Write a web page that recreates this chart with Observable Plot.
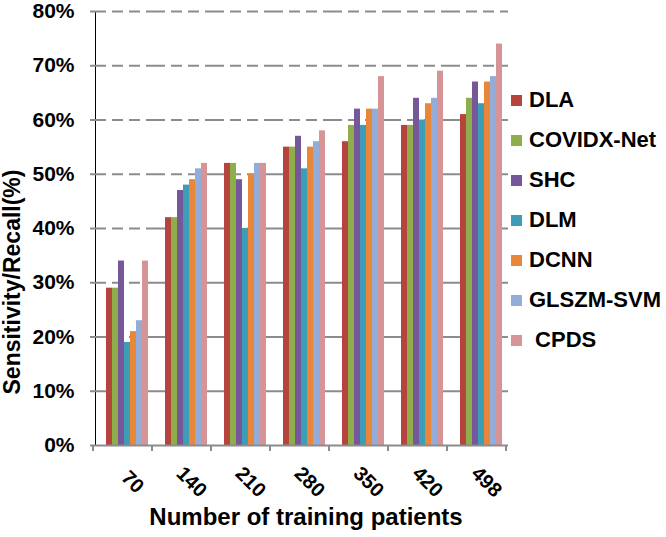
<!DOCTYPE html>
<html><head><meta charset="utf-8">
<script src="https://cdn.jsdelivr.net/npm/d3@7"></script>
<script src="https://cdn.jsdelivr.net/npm/@observablehq/plot@0.6"></script>
<style>
body{margin:0;background:#fff;font-family:"Liberation Sans",Arial,sans-serif;}
#wrap{position:relative;width:666px;height:537px;}
#legend{position:absolute;left:511px;top:80px;}
.row{height:40px;display:flex;align-items:center;white-space:pre;font-weight:bold;font-size:22px;color:#000;}
.sw{width:11px;height:11px;margin-right:7px;flex:none;}
</style></head><body><div id="wrap"><div id="legend"></div></div>
<script>
const groups = ["70","140","210","280","350","420","498"];
const methods = ["DLA","COVIDX-Net","SHC","DLM","DCNN","GLSZM-SVM","CPDS"];
const legendLabels = ["DLA","COVIDX-Net","SHC","DLM","DCNN","GLSZM-SVM"," CPDS"];
const colors = ["#B5443F","#8DAE4B","#75579A","#3D9DB6","#E8873A","#93ACD8","#D79496"];
const DLA       = [29,42,52,55,56,59,61];
const COVIDXNet = [29,42,52,55,59,59,64];
const SHC       = [34,47,49,57,62,64,67];
const DLM       = [19,48,40,51,59,60,63];
const DCNN      = [21,49,50,55,62,63,67];
const GLSZMSVM  = [23,51,52,56,62,64,68];
const CPDS      = [34,52,52,58,68,69,74];
const yTicks = [0,10,20,30,40,50,60,70,80];
const yTitle = "Sensitivity/Recall(%)";
const xTitle = "Number of training patients";

const series = [DLA,COVIDXNet,SHC,DLM,DCNN,GLSZMSVM,CPDS];
const data = [];
methods.forEach((m,i)=>groups.forEach((g,j)=>data.push({method:m, group:g, value:series[i][j]})));

const gridColor = "#8c8c8c";
const chart = Plot.plot({
  width: 666, height: 537,
  marginLeft: 93, marginRight: 156, marginTop: 11, marginBottom: 92,
  style: {fontFamily:'"Liberation Sans",Arial,sans-serif', fontWeight:"bold", fontSize:"21px", color:"#000", background:"#fff", overflow:"visible"},
  fx: {domain: groups, padding: 0, axis: null, label: null},
  x: {domain: methods, paddingInner: 0, paddingOuter: 0.75, align: 0.65, axis: null},
  y: {domain: [0,80], ticks: yTicks, tickFormat: d=>d+"%", tickSize: 5, tickPadding: 16, line: true, label: null},
  color: {domain: methods, range: colors},
  marks: [
    Plot.ruleY(yTicks.filter(d=>d>0), {stroke:gridColor, strokeWidth:2, strokeDasharray:"11,6"}),
    Plot.barY(data, {fx:"group", x:"method", y:"value", fill:"method"}),
    Plot.ruleY([0], {stroke:gridColor, strokeWidth:2}),
    Plot.text(groups, {fx: d=>d, text: d=>d, frameAnchor:"bottom", rotate:45, dy:41, dx:3, fontSize:20, fill:"#000"}),
    Plot.text([groups[0]], {fx: d=>d, text: [yTitle], frameAnchor:"bottom-left", textAnchor:"start", rotate:-90, dx:-76, dy:-51, fontSize:23, fill:"#000", ariaLabel:"ytitle"}),
    Plot.text([groups[3]], {fx: d=>d, text: [xTitle], frameAnchor:"bottom", dy:79, dx:4, fontSize:24, fill:"#000"})
  ]
});
document.getElementById("wrap").prepend(chart);

const svg = d3.select(chart);
svg.selectAll('[aria-label^="y-axis"] path, [aria-label^="y-axis"] line').attr("stroke", gridColor).style("stroke", gridColor).attr("stroke-width", 2);
svg.selectAll('g[aria-label="ytitle"] text').attr("textLength", 340).attr("lengthAdjust", "spacingAndGlyphs");

// boundary ticks on x axis
const fx = chart.scale("fx");
const y = chart.scale("y");
const y0 = y.apply ? y.apply(0) : 445;
const step = fx.step;
const start = fx.range[0];
const bounds = d3.range(groups.length + 1).map(i => start + i * step);
svg.append("g").selectAll("line").data(bounds).join("line")
  .attr("x1", d=>d).attr("x2", d=>d).attr("y1", y0).attr("y2", y0 + 6)
  .attr("stroke", gridColor).attr("stroke-width", 2);

// legend
const leg = d3.select("#legend");
methods.forEach((m,i)=>{
  const r = leg.append("div").attr("class","row");
  r.append("div").attr("class","sw").style("background", colors[i]);
  r.append("span").text(legendLabels[i]);
});
</script></body></html>
